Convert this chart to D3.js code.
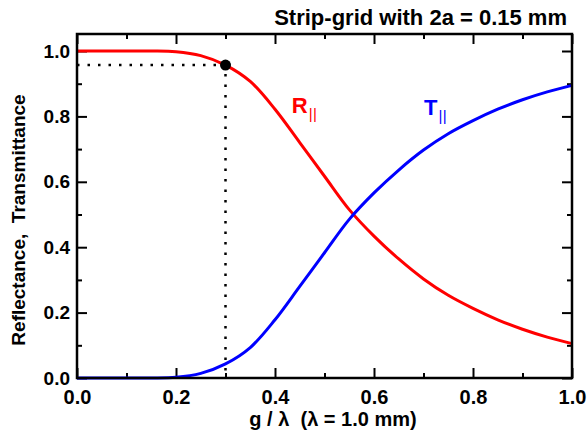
<!DOCTYPE html>
<html>
<head>
<meta charset="utf-8">
<script src="https://cdn.jsdelivr.net/npm/d3@7"></script>
<style>
  html, body { margin: 0; padding: 0; background: #fff; }
  svg { display: block; font-family: "Liberation Sans", Arial, sans-serif; font-weight: bold; }
  .tick text { fill: #000; }
</style>
</head>
<body>
<div id="chart"></div>
<script>
// --- Data ---
const gOverLambda = [0, 0.05, 0.1, 0.15, 0.2, 0.25, 0.3, 0.35, 0.4, 0.45, 0.5, 0.55, 0.6, 0.65, 0.7, 0.75, 0.8, 0.85, 0.9, 0.95, 1.0];
const reflectance = [1.0, 1.0, 1.0, 1.0, 0.998, 0.986, 0.957, 0.907, 0.822, 0.72, 0.617, 0.515, 0.434, 0.364, 0.303, 0.253, 0.213, 0.178, 0.149, 0.125, 0.105];
const transmittance = [0, 0, 0, 0, 0.002, 0.014, 0.043, 0.093, 0.178, 0.28, 0.383, 0.485, 0.566, 0.636, 0.697, 0.747, 0.787, 0.822, 0.851, 0.875, 0.895];
const marker = [0.3, 0.957];
const xMajor = [0, 0.2, 0.4, 0.6, 0.8, 1.0];
const xMinor = [0.1, 0.3, 0.5, 0.7, 0.9];
const yMajor = [0, 0.2, 0.4, 0.6, 0.8, 1.0];
const yMinor = [0.1, 0.3, 0.5, 0.7, 0.9];
const title = "Strip-grid with 2a = 0.15 mm";
const xTitle = "g / \u03bb  (\u03bb = 1.0 mm)";
const yTitle = "Reflectance,  Transmittance";

// --- Setup ---
const W = 587, H = 436;
const m = { left: 77, right: 15, top: 34, bottom: 58 };
const svg = d3.select('#chart').append('svg').attr('width', W).attr('height', H);

const x = d3.scaleLinear().domain([0, 1]).range([m.left, W - m.right]);
const y = d3.scaleLinear().domain([0, 1.052]).range([H - m.bottom, m.top]);
const fmt = d3.format('.1f');

// --- Axes (ticks point inward on all four sides) ---
function styleAxis(sel) {
    sel.select('.domain').remove();
    sel.selectAll('.tick line').attr('stroke', '#000').attr('stroke-width', 2);
}
const yb = H - m.bottom, xr = W - m.right;

svg.append('g').attr('transform', `translate(0,${yb})`)
    .call(d3.axisBottom(x).tickValues(xMajor).tickSize(-10).tickPadding(12).tickFormat(fmt))
    .call(styleAxis).selectAll('text').style('font-size', '20px').style('font-family', null);
svg.append('g').attr('transform', `translate(0,${yb})`)
    .call(d3.axisBottom(x).tickValues(xMinor).tickSize(-5).tickFormat(''))
    .call(styleAxis);
svg.append('g').attr('transform', `translate(0,${m.top})`)
    .call(d3.axisTop(x).tickValues(xMajor).tickSize(-10).tickFormat(''))
    .call(styleAxis);
svg.append('g').attr('transform', `translate(0,${m.top})`)
    .call(d3.axisTop(x).tickValues(xMinor).tickSize(-5).tickFormat(''))
    .call(styleAxis);

svg.append('g').attr('transform', `translate(${m.left},0)`)
    .call(d3.axisLeft(y).tickValues(yMajor).tickSize(-10).tickPadding(7).tickFormat(fmt))
    .call(styleAxis).selectAll('text').style('font-size', '19px').style('font-family', null);
svg.append('g').attr('transform', `translate(${m.left},0)`)
    .call(d3.axisLeft(y).tickValues(yMinor).tickSize(-5).tickFormat(''))
    .call(styleAxis);
svg.append('g').attr('transform', `translate(${xr},0)`)
    .call(d3.axisRight(y).tickValues(yMajor).tickSize(-10).tickFormat(''))
    .call(styleAxis);
svg.append('g').attr('transform', `translate(${xr},0)`)
    .call(d3.axisRight(y).tickValues(yMinor).tickSize(-5).tickFormat(''))
    .call(styleAxis);

// --- Guide lines to the marker ---
svg.append('path')
    .attr('d', `M${x(0)},${y(marker[1])}H${x(marker[0])}V${y(0)}`)
    .attr('fill', 'none').attr('stroke', '#000')
    .attr('stroke-width', 2.5).attr('stroke-dasharray', '2.5,8');

// --- Curves ---
const line = d3.line().x(d => x(d[0])).y(d => y(d[1])).curve(d3.curveCatmullRom.alpha(0.5));
svg.append('path').datum(d3.zip(gOverLambda, reflectance))
    .attr('d', line).attr('fill', 'none').attr('stroke', '#ff0000').attr('stroke-width', 3);
svg.append('path').datum(d3.zip(gOverLambda, transmittance))
    .attr('d', line).attr('fill', 'none').attr('stroke', '#0000ff').attr('stroke-width', 3);

svg.append('circle').attr('cx', x(marker[0])).attr('cy', y(marker[1])).attr('r', 5.5).attr('fill', '#000');

// frame
svg.append('rect')
    .attr('x', m.left).attr('y', m.top)
    .attr('width', xr - m.left).attr('height', yb - m.top)
    .attr('fill', 'none').attr('stroke', '#000').attr('stroke-width', 2.5);

// --- Curve labels ---
function curveLabel(letter, px, py, color) {
    const t = svg.append('text').attr('x', x(px)).attr('y', y(py)).attr('fill', color).style('font-size', '22px');
    t.append('tspan').text(letter);
    t.append('tspan').text('||').attr('dx', 1).attr('dy', 6)
        .style('font-size', '15px').style('font-weight', 'normal').style('letter-spacing', '0.5px');
}
curveLabel('R', 0.434, 0.811, '#ff0000');
curveLabel('T', 0.701, 0.804, '#0000ff');

// --- Titles ---
svg.append('text').attr('x', 567).attr('y', 25).attr('text-anchor', 'end')
    .style('font-size', '22px').text(title);
svg.append('text').attr('x', 333).attr('y', 426).attr('text-anchor', 'middle')
    .style('font-size', '20px').style('white-space', 'pre').text(xTitle);
svg.append('text').attr('transform', `translate(25,220) rotate(-90)`).attr('text-anchor', 'middle')
    .style('font-size', '19px').style('white-space', 'pre').text(yTitle);
</script>
</body>
</html>
